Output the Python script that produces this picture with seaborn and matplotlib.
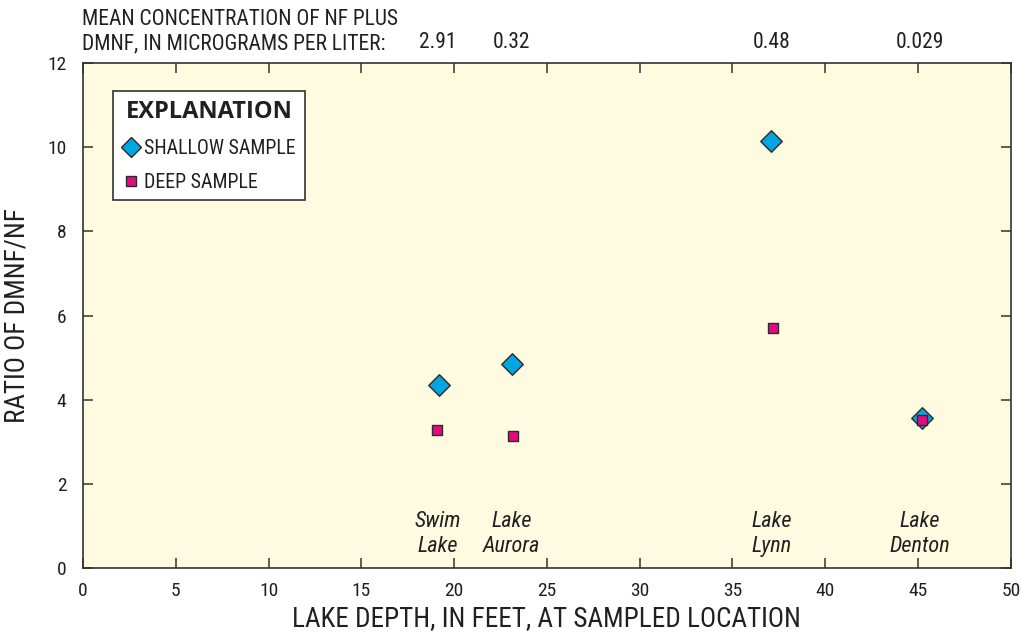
import matplotlib
matplotlib.use("Agg")
import matplotlib.pyplot as plt
import seaborn as sns
import pandas as pd
from matplotlib.lines import Line2D
from matplotlib.font_manager import FontProperties

# Lake sampling data
lakes = ["Swim Lake", "Lake Aurora", "Lake Lynn", "Lake Denton"]
lake_labels = ["Swim\nLake", "Lake\nAurora", "Lake\nLynn", "Lake\nDenton"]
shallow_depth = [19.2, 23.1, 37.1, 45.2]
shallow_ratio = [4.35, 4.85, 10.15, 3.57]
deep_depth = [19.1, 23.2, 37.2, 45.2]
deep_ratio = [3.28, 3.13, 5.70, 3.52]
label_depth = [19.1, 23.1, 37.1, 45.1]
mean_conc = ["2.91", "0.32", "0.48", "0.029"]

sns.set_style("ticks")
plt.rcParams["font.family"] = ["Roboto Condensed", "DejaVu Sans"]

shallow_df = pd.DataFrame({"depth": shallow_depth, "ratio": shallow_ratio})
deep_df = pd.DataFrame({"depth": deep_depth, "ratio": deep_ratio})

fig = plt.figure(figsize=(10.21, 6.34), dpi=100)
ax = fig.add_axes([0.0813, 0.104, 0.9087, 0.7966])
ax.set_facecolor("#FEFBE0")

blue = "#00A5E3"
pink = "#E5097F"
edge = "#2b2b2b"
ink = "#231f20"

sns.scatterplot(data=shallow_df, x="depth", y="ratio", ax=ax, marker="D",
                s=120, color=blue, edgecolor=edge, linewidth=1.0, zorder=3)
sns.scatterplot(data=deep_df, x="depth", y="ratio", ax=ax, marker="s",
                s=60, color=pink, edgecolor=edge, linewidth=1.0, zorder=4)

ax.set_xlim(0, 50)
ax.set_ylim(0, 12)
ax.set_xticks(range(0, 51, 5))
ax.set_yticks(range(0, 13, 2))
ax.tick_params(direction="in", length=7, width=1.1, color="#333333",
               labelsize=14, labelcolor=ink, top=True, right=True)
ax.tick_params(axis="x", pad=10)
ax.tick_params(axis="y", pad=12)
for s in ax.spines.values():
    s.set_color("#333333")
    s.set_linewidth(1.2)

ax.set_xlabel("LAKE DEPTH, IN FEET, AT SAMPLED LOCATION", fontsize=19.5,
              color=ink, labelpad=4)
ax.set_ylabel("RATIO OF DMNF/NF", fontsize=19.5, color=ink, labelpad=12)

# Lake names near the bottom of the plot
for x, name in zip(label_depth, lake_labels):
    ax.text(x, 0.80, name, ha="center", va="center", fontsize=16,
            style="italic", color=ink, linespacing=1.25)

# Mean concentrations along the top
for x, c in zip(label_depth, mean_conc):
    ax.text(x, 12.48, c, ha="center", va="center", fontsize=15.5, color=ink,
            clip_on=False)
ax.text(-0.05, 12.75, "MEAN CONCENTRATION OF NF PLUS\nDMNF, IN MICROGRAMS PER LITER:",
        ha="left", va="center", fontsize=15.5, color=ink, linespacing=1.2,
        clip_on=False)

# Explanation box
handles = [
    Line2D([], [], marker="D", linestyle="none", markersize=10,
           markerfacecolor=blue, markeredgecolor=edge, markeredgewidth=1.0),
    Line2D([], [], marker="s", linestyle="none", markersize=7,
           markerfacecolor=pink, markeredgecolor=edge, markeredgewidth=1.0),
]
title_font = FontProperties(family="Open Sans", stretch="condensed",
                            weight="bold", size=17)
leg = ax.legend(handles, ["SHALLOW SAMPLE", "DEEP SAMPLE"], title="EXPLANATION",
                title_fontproperties=title_font,
                loc="upper left", bbox_to_anchor=(0.032, 0.945), frameon=True,
                fancybox=False, fontsize=14.3, handletextpad=0.25,
                handlelength=0.9, borderpad=0.45, labelspacing=0.75,
                borderaxespad=0)
for t in leg.get_texts():
    t.set_color(ink)
leg.get_title().set_color(ink)
leg.get_frame().set_edgecolor("#333333")
leg.get_frame().set_linewidth(1.2)
leg.get_frame().set_facecolor("white")
leg.get_frame().set_alpha(1)

fig.savefig("out.png", dpi=100)
